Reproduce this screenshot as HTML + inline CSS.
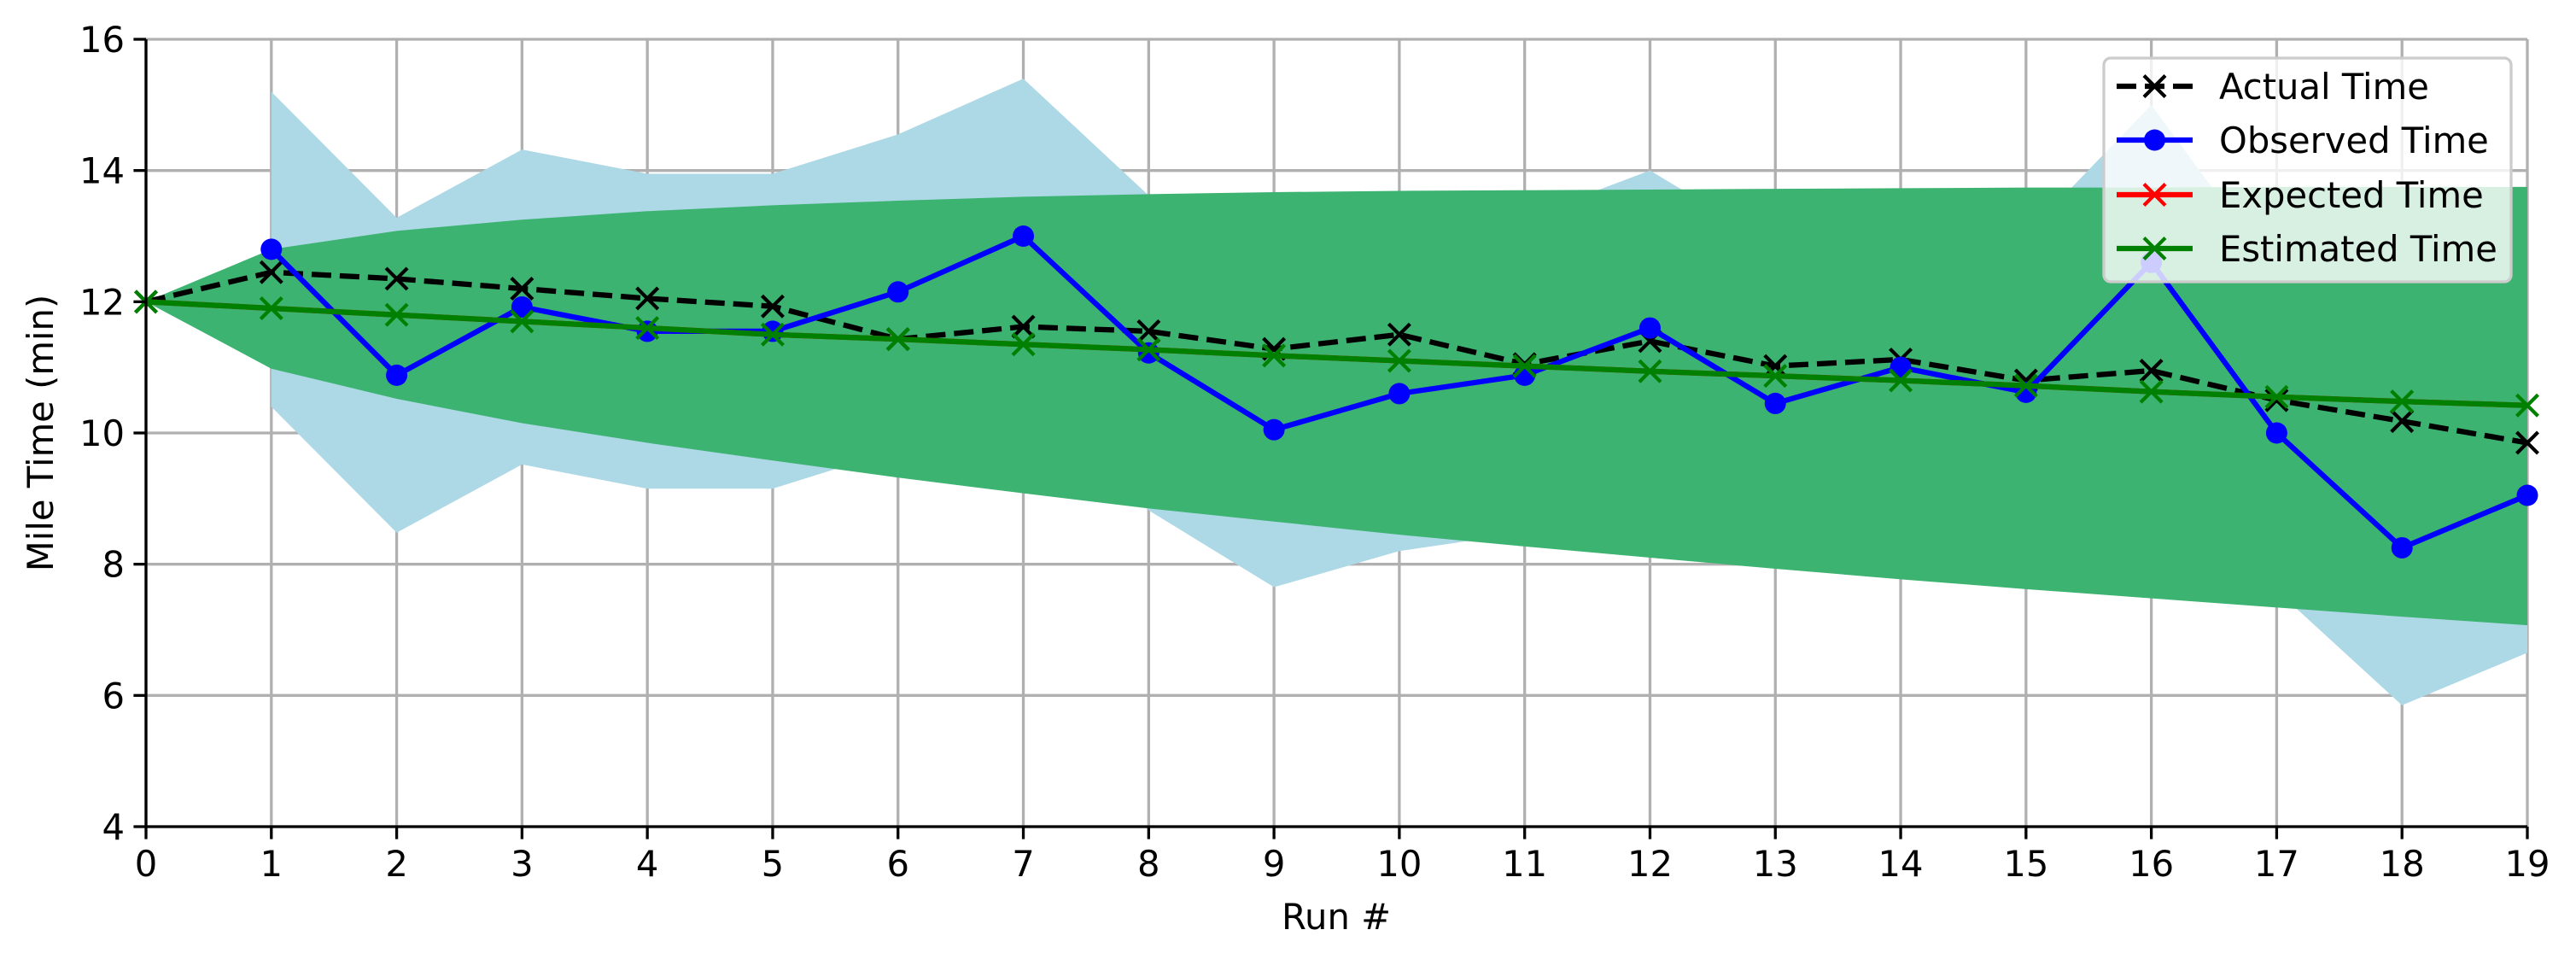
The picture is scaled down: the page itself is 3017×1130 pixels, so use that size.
<!DOCTYPE html>
<html><head><meta charset="utf-8"><style>
html,body{margin:0;padding:0;background:#fff;}
svg{display:block;font-family:"DejaVu Sans","Liberation Sans",sans-serif;}
</style></head><body>
<svg id="chart" width="3017" height="1130" viewBox="0 0 3017 1130" xmlns="http://www.w3.org/2000/svg"></svg>
<script>
const runs = [0,1,2,3,4,5,6,7,8,9,10,11,12,13,14,15,16,17,18,19];
const actualTime = [12,12.45,12.35,12.2,12.05,11.93,11.43,11.62,11.55,11.28,11.5,11.05,11.4,11.02,11.12,10.8,10.95,10.5,10.18,9.85];
const observedRuns = [1,2,3,4,5,6,7,8,9,10,11,12,13,14,15,16,17,18,19];
const observedTime = [12.8,10.88,11.92,11.55,11.55,12.15,13.0,11.22,10.05,10.6,10.88,11.6,10.45,11.0,10.62,12.6,10.0,8.25,9.05];
const observedUpper = [15.2,13.28,14.32,13.95,13.95,14.55,15.4,13.62,12.45,13.0,13.28,14.0,12.85,13.4,13.02,15.0,12.4,10.65,11.45];
const observedLower = [10.4,8.48,9.52,9.15,9.15,9.75,10.6,8.82,7.65,8.2,8.48,9.2,8.05,8.6,8.22,10.2,7.6,5.85,6.65];
const estimatedTime = [12,11.9,11.8,11.7,11.6,11.5,11.43,11.35,11.27,11.18,11.1,11.02,10.94,10.87,10.8,10.72,10.63,10.55,10.48,10.42];
const expectedTime = [12,11.9,11.8,11.7,11.6,11.5,11.43,11.35,11.27,11.18,11.1,11.02,10.94,10.87,10.8,10.72,10.63,10.55,10.48,10.42];
const estUpper = [12,12.8,13.08,13.25,13.38,13.47,13.54,13.6,13.64,13.67,13.69,13.7,13.71,13.72,13.73,13.74,13.74,13.75,13.75,13.75];
const estLower = [12,10.98,10.52,10.15,9.85,9.58,9.32,9.08,8.85,8.65,8.45,8.27,8.1,7.93,7.77,7.62,7.48,7.34,7.2,7.07];
const xTicks = [0,1,2,3,4,5,6,7,8,9,10,11,12,13,14,15,16,17,18,19];
const yTicks = [4,6,8,10,12,14,16];

const X0=171,X1=2960,Y0=968,Y1=46;
const xs=v=>X0+(v-0)/(19-0)*(X1-X0);
const ys=v=>Y0-(v-4)/(16-4)*(Y0-Y1);
const NS="http://www.w3.org/2000/svg";
const svg=document.getElementById('chart');
function mk(tag,attrs,parent){const e=document.createElementNS(NS,tag);for(const k in attrs)e.setAttribute(k,attrs[k]);(parent||svg).appendChild(e);return e;}

const grid=mk('g',{});


xTicks.forEach(t=>mk('line',{x1:xs(t),x2:xs(t),y1:Y0,y2:Y1,stroke:'#b0b0b0','stroke-width':3.3},grid));
yTicks.forEach(t=>mk('line',{x1:X0,x2:X1,y1:ys(t),y2:ys(t),stroke:'#b0b0b0','stroke-width':3.3},grid));

function band(xv,up,lo,fill,name){
  let d='M'+xv.map((x,i)=>xs(x)+','+ys(up[i])).join('L');
  for(let i=xv.length-1;i>=0;i--) d+='L'+xs(xv[i])+','+ys(lo[i]);
  const p=mk('path',{d:d+'Z',fill:fill});
  
  
}
band(observedRuns,observedUpper,observedLower,'#add8e6','observed-band');
band(runs,estUpper,estLower,'#3cb371','estimated-band');

function line(xv,yv,color,dash,name){
  const p=mk('polyline',{points:xv.map((x,i)=>xs(x)+','+ys(yv[i])).join(' '),fill:'none',stroke:color,'stroke-width':6.25,'stroke-linejoin':'round'});
  if(dash)p.setAttribute('stroke-dasharray',dash);
  
  
}
function xmark(x,y,color,g){const r=12.5;mk('path',{d:`M${x-r},${y-r}L${x+r},${y+r}M${x-r},${y+r}L${x+r},${y-r}`,stroke:color,'stroke-width':4.2,fill:'none'},g);}

line(runs,actualTime,'#000','23,10','actual-time-line');
let ga=mk('g',{});


runs.forEach((r,i)=>xmark(xs(r),ys(actualTime[i]),'#000',ga));

line(observedRuns,observedTime,'#0000ff',null,'observed-time-line');
let go=mk('g',{});


observedRuns.forEach((r,i)=>mk('circle',{cx:xs(r),cy:ys(observedTime[i]),r:12.5,fill:'#0000ff'},go));

line(runs,expectedTime,'#ff0000',null,'expected-time-line');
line(runs,estimatedTime,'#008000',null,'estimated-time-line');
let ge=mk('g',{});


runs.forEach((r,i)=>xmark(xs(r),ys(estimatedTime[i]),'#008000',ge));

const ax=mk('g',{});


mk('line',{x1:X0,x2:X0,y1:Y0+1.5,y2:Y1,stroke:'#000','stroke-width':3.3},ax);
mk('line',{x1:X0-1.5,x2:X1,y1:Y0,y2:Y0,stroke:'#000','stroke-width':3.3},ax);
xTicks.forEach(t=>{
  mk('line',{x1:xs(t),x2:xs(t),y1:Y0,y2:Y0+14.6,stroke:'#000','stroke-width':3.3},ax);
  const tx=mk('text',{x:xs(t),y:Y0+58,'font-size':41.7,'text-anchor':'middle',fill:'#000'},ax);
  tx.textContent=t;
  
  
});
yTicks.forEach(t=>{
  mk('line',{x1:X0-14.6,x2:X0,y1:ys(t),y2:ys(t),stroke:'#000','stroke-width':3.3},ax);
  const tx=mk('text',{x:X0-25,y:ys(t)+15,'font-size':41.7,'text-anchor':'end',fill:'#000'},ax);
  tx.textContent=t;
  
  
});
</script>
<svg style="position:absolute;left:0;top:0" width="3017" height="1130" xmlns="http://www.w3.org/2000/svg" font-family="DejaVu Sans, Liberation Sans, sans-serif">
  <text x="1565" y="1088" font-size="41.7" text-anchor="middle">Run #</text>
  <text x="0" y="0" font-size="41.7" text-anchor="middle" transform="translate(62,507) rotate(-90)">Mile Time (min)</text>
  <g>
    <rect x="2464" y="68" width="477" height="262" rx="8" fill="#fff" fill-opacity="0.8" stroke="#cccccc" stroke-width="3.3"/>
    <g>
      <line x1="2479" x2="2568" y1="101" y2="101" stroke="#000" stroke-width="6.25" stroke-dasharray="23,10"/>
      <path d="M2511,88.5L2536,113.5M2511,113.5L2536,88.5" stroke="#000" stroke-width="4.2"/>
      <text x="2599" y="116" font-size="41.7">Actual Time</text>
    </g>
    <g>
      <line x1="2479" x2="2568" y1="164" y2="164" stroke="#0000ff" stroke-width="6.25"/>
      <circle cx="2523.5" cy="164" r="12.5" fill="#0000ff"/>
      <text x="2599" y="179" font-size="41.7">Observed Time</text>
    </g>
    <g>
      <line x1="2479" x2="2568" y1="228" y2="228" stroke="#ff0000" stroke-width="6.25"/>
      <path d="M2511,215.5L2536,240.5M2511,240.5L2536,215.5" stroke="#ff0000" stroke-width="4.2"/>
      <text x="2599" y="243" font-size="41.7">Expected Time</text>
    </g>
    <g>
      <line x1="2479" x2="2568" y1="291" y2="291" stroke="#008000" stroke-width="6.25"/>
      <path d="M2511,278.5L2536,303.5M2511,303.5L2536,278.5" stroke="#008000" stroke-width="4.2"/>
      <text x="2599" y="306" font-size="41.7">Estimated Time</text>
    </g>
  </g>
</svg>
</body></html>
